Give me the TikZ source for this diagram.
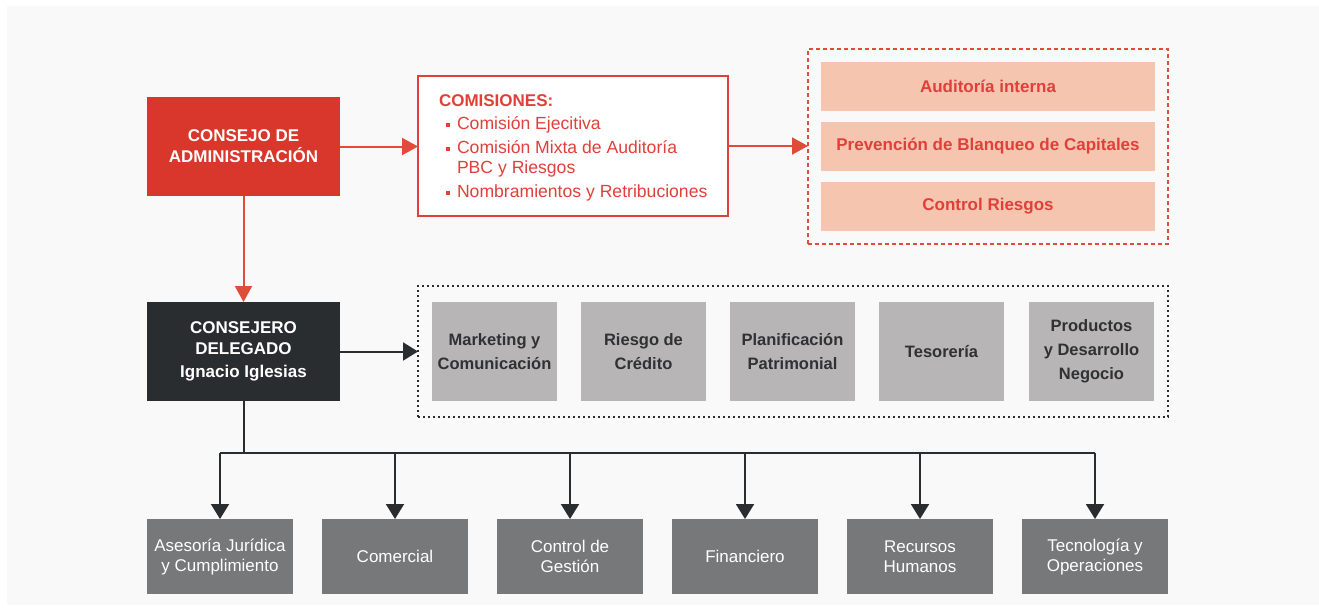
\documentclass[tikz,border=0pt]{standalone}
\usepackage{fontspec}
\setmainfont{Liberation Sans}
\usetikzlibrary{arrows.meta}

\definecolor{panelbg}{HTML}{F9F9F9}
\definecolor{boardred}{HTML}{D9372B}
\definecolor{linered}{HTML}{DF4C3A}
\definecolor{textred}{HTML}{E0403A}
\definecolor{salmon}{HTML}{F5C5AF}
\definecolor{darkbox}{HTML}{2A2D30}
\definecolor{lightgray}{HTML}{B7B5B5}
\definecolor{graytext}{HTML}{2F3133}
\definecolor{midgray}{HTML}{76787A}

\tikzset{
  every node/.style={inner sep=0pt, outer sep=0pt},
  boxbase/.style={rectangle, align=center, font=\fontsize{17}{21}\selectfont},
  boardbox/.style={boxbase, fill=boardred, text=white, font=\fontsize{17}{21}\selectfont\bfseries,
    minimum width=193pt, minimum height=99pt},
  ceobox/.style={boxbase, fill=darkbox, text=white, font=\fontsize{17}{21}\selectfont\bfseries,
    minimum width=193pt, minimum height=99pt},
  combox/.style={rectangle, draw=textred, line width=2pt, fill=white,
    minimum width=310pt, minimum height=140pt},
  comtext/.style={anchor=base west, text=textred, font=\fontsize{17.6}{20}\selectfont},
  bulletmark/.style={anchor=base west, text=textred, font=\fontsize{17}{20}\selectfont},
  auditbox/.style={boxbase, fill=salmon, text=textred, font=\fontsize{17}{21}\selectfont\bfseries,
    minimum width=334pt, minimum height=49pt},
  deptbox/.style={boxbase, fill=lightgray, text=graytext, font=\fontsize{16.5}{24}\selectfont\bfseries,
    minimum width=125pt, minimum height=99pt},
  areabox/.style={boxbase, fill=midgray, text=white, font=\fontsize{17}{20}\selectfont,
    minimum width=146pt, minimum height=75pt},
  redframe/.style={rectangle, draw=linered, line width=2pt, dash pattern=on 4pt off 3pt,
    minimum width=360pt, minimum height=195pt},
  blackframe/.style={rectangle, draw=darkbox, line width=2pt, dash pattern=on 2pt off 3pt,
    minimum width=750pt, minimum height=131pt},
  redarrow/.style={draw=linered, line width=2pt, -{Triangle[length=16pt,width=17pt]}, color=linered},
  darkarrow/.style={draw=darkbox, line width=2pt, -{Triangle[length=15pt,width=18pt]}, color=darkbox},
  darkline/.style={draw=darkbox, line width=2pt},
}

\newcommand{\sqbullet}{\raisebox{2.5pt}{\rule{4pt}{4pt}}}

\begin{document}
\begin{tikzpicture}[x=1pt, y=-1pt]
  % page and light panel
  \useasboundingbox (0,0) rectangle (1319,611);
  \fill[white] (0,0) rectangle (1319,611);
  \fill[panelbg] (7,6) rectangle (1319,605);

  % board of directors
  \node[boardbox] (cda) at (243.5,146.5) {CONSEJO DE\\ADMINISTRACIÓN};

  % committees
  \node[combox] (com) at (573,146) {};
  \node[comtext, font=\fontsize{17}{20}\selectfont\bfseries] (comtitle) at (439,106) {COMISIONES:};
  \node[bulletmark] (b1) at (446,129) {\sqbullet};
  \node[comtext] (c1) at (457,129) {Comisión Ejecitiva};
  \node[bulletmark] (b2) at (446,153) {\sqbullet};
  \node[comtext] (c2) at (457,153) {Comisión Mixta de Auditoría};
  \node[comtext] (c2b) at (457,173) {PBC y Riesgos};
  \node[bulletmark] (b3) at (446,197) {\sqbullet};
  \node[comtext] (c3) at (457,197) {Nombramientos y Retribuciones};

  % control functions
  \node[redframe] (ctrl) at (988,146.5) {};
  \node[auditbox] (aud) at (988,86.5) {Auditoría interna};
  \node[auditbox] (pbc) at (988,146.5) {Prevención de Blanqueo de Capitales};
  \node[auditbox] (rsk) at (988,206.5) {Control Riesgos};

  % chief executive
  \node[ceobox] (cd) at (243.5,351.5) {CONSEJERO\\DELEGADO\\[2pt]Ignacio Iglesias};

  % executive areas reporting directly
  \node[blackframe] (exec) at (793,351.5) {};
  \node[deptbox] (mkt) at (494.5,351.5) {Marketing y\\Comunicación};
  \node[deptbox] (rdc) at (643.5,351.5) {Riesgo de\\Crédito};
  \node[deptbox] (pla) at (792.5,351.5) {Planificación\\Patrimonial};
  \node[deptbox] (tes) at (941.5,351.5) {Tesorería};
  \node[deptbox] (pro) at (1091.5,351.5) {Productos\\y Desarrollo\\Negocio};

  % business areas
  \node[areabox] (a1) at (220,556.5) {Asesoría Jurídica\\y Cumplimiento};
  \node[areabox] (a2) at (395,556.5) {Comercial};
  \node[areabox] (a3) at (570,556.5) {Control de\\Gestión};
  \node[areabox] (a4) at (745,556.5) {Financiero};
  \node[areabox] (a5) at (920,556.5) {Recursos\\Humanos};
  \node[areabox] (a6) at (1095,556.5) {Tecnología y\\Operaciones};

  % connectors
  \draw[redarrow] (cda.east) -- (cda.east -| com.west);
  \draw[redarrow] (com.east) -- (com.east -| ctrl.west);
  \draw[redarrow] (cda.south) -- (cd.north);
  \draw[darkarrow] (cd.east) -- (cd.east -| exec.west);

  \coordinate (hub) at (243.5,453);
  \draw[darkline] (cd.south) -- (hub);
  \draw[darkline] (a1.north |- hub) -- (a6.north |- hub);
  \foreach \n in {a1,a2,a3,a4,a5,a6}
    \draw[darkarrow] (\n.north |- hub) -- (\n.north);
\end{tikzpicture}
\end{document}
